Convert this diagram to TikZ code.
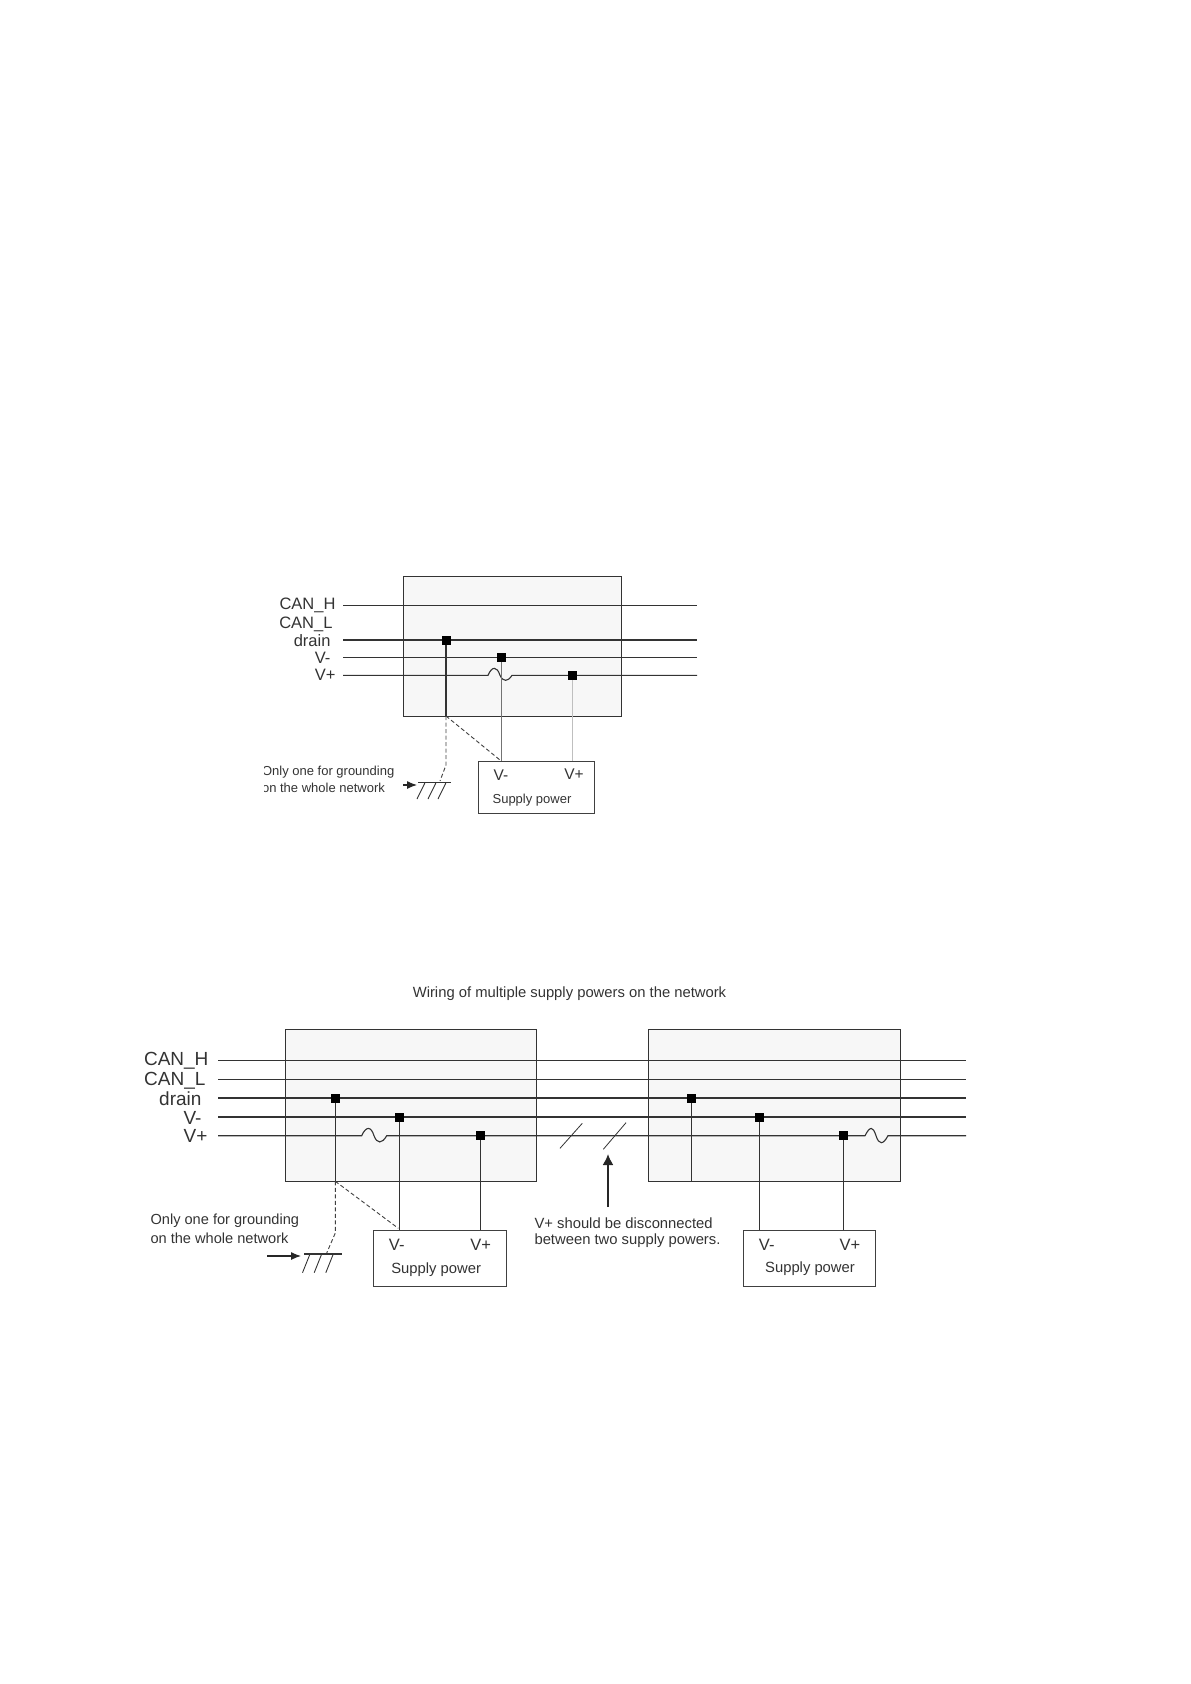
\documentclass[tikz,border=0pt]{standalone}
\usepackage{fontspec}
\setmainfont{Liberation Sans}
\usetikzlibrary{arrows.meta}
\tikzset{
  wire/.style={line width=1.1pt,black!80},
  thinwire/.style={line width=0.8pt,black!55},
  gnd/.style={line width=0.9pt,black!75,dash pattern=on 4pt off 2.5pt},
  slot/.style={draw=black!80,line width=1pt,fill=black!3},
  supply/.style={draw=black!75,line width=1pt,fill=white,inner sep=0pt},
  dot/.style={fill=black,inner sep=0pt,minimum size=9pt},
  big/.style={font=\fontsize{19}{20}\selectfont,text=black!80},
  med/.style={font=\fontsize{16.5}{18}\selectfont,text=black!80},
  txt/.style={font=\fontsize{14.8}{17}\selectfont,text=black!80},
  sml/.style={font=\fontsize{13}{15}\selectfont,text=black!80},
  hint/.style={-{Latex[length=10pt,width=8pt]},line width=1.1pt,black!85}
}
\begin{document}
\begin{tikzpicture}[x=1pt,y=-1pt]
  \useasboundingbox (0,0) rectangle (1191,1684);
  % upper network
  \node[slot,minimum width=218pt,minimum height=140pt] (slotA) at (512,646) {};
  \node[supply,minimum width=116pt,minimum height=52pt] (powerA) at (536.7,787.3) {};
  \foreach \nm/\ty in {tH/605.7,tD/640,tN/657,tP/675.3}{
    \coordinate (\nm a) at (343,\ty);
    \coordinate (\nm b) at (697,\ty);
  }
  \node[med,anchor=east] (ltH) at (339,605) {CAN\_H};
  \node[med,anchor=east] (ltL) at (336,624) {CAN\_L};
  \node[med,anchor=east] (ltD) at (334,640.5) {drain};
  \node[med,anchor=east] (ltN) at (334,657.5) {V-};
  \node[med,anchor=east] (ltP) at (339,674.5) {V+};
  \draw[wire] (tHa) -- (tHb);
  \draw[wire,line width=1.7pt] (tDa) -- (tDb);
  \draw[wire,line width=0.9pt] (tNa) -- (tNb);
  \draw[wire] (tPa) -- (488,675.3) .. controls (492,666) and (497,666) .. (500,675.3)
     .. controls (503,682) and (508,682) .. (512,675.3) -- (tPb);
  \node[dot] (jtD) at (446,640) {};
  \node[dot] (jtN) at (501.7,657) {};
  \node[dot] (jtP) at (572.3,675.3) {};
  \coordinate (gtA) at (446,716);
  \coordinate (gtB) at (446,765);
  \coordinate (gtC) at (440,781);
  \draw[wire] (jtD) -- (gtA);
  \draw[gnd] (gtA) -- (gtB) -- (gtC);
  \draw[gnd] (gtA) -- (500,760);
  \draw[thinwire] (jtN) -- (jtN |- powerA.north);
  \draw[thinwire,black!25] (jtP) -- (jtP |- powerA.north);
  \draw[wire] (418,782.7) -- (451,782.7);
  \foreach \gx in {425,436,446}{
    \draw[wire,line width=0.9pt] (\gx,782.7) -- (\gx-8,799);
  }
  \begin{scope}
    \clip (264,760) rectangle (400,800);
    \node[sml,anchor=west] (ntA) at (258.5,771.7) {Only one for grounding};
    \node[sml,anchor=west] (ntB) at (258.5,787.7) {on the whole network};
  \end{scope}
  \coordinate (atA) at (403,785);
  \coordinate (atB) at (417,785);
  \draw[hint] (atA) -- (atB);
  \node[txt,font=\fontsize{15.5}{18}\selectfont] (ptN) at (501,775) {V-};
  \node[txt,font=\fontsize{15.5}{18}\selectfont] (ptP) at (574,774.5) {V+};
  \node[sml] (ptS) at (532,800.3) {Supply power};
  % lower network
  \node[txt] (title) at (569.5,994) {Wiring of multiple supply powers on the network};
  \node[slot,minimum width=251pt,minimum height=152pt] (slotB) at (411.2,1105.3) {};
  \node[slot,minimum width=252.4pt,minimum height=152pt] (slotC) at (774.5,1105.3) {};
  \node[supply,minimum width=132.7pt,minimum height=56.4pt] (powerB) at (439.7,1258.5) {};
  \node[supply,minimum width=132pt,minimum height=56.4pt] (powerC) at (809.3,1258.5) {};
  \foreach \nm/\ty in {bH/1060.3,bL/1079.7,bD/1098,bN/1117,bP/1135.7}{
    \coordinate (\nm a) at (218,\ty);
    \coordinate (\nm b) at (966,\ty);
  }
  \node[big,anchor=east] (lbH) at (212,1061) {CAN\_H};
  \node[big,anchor=east] (lbL) at (209,1080.5) {CAN\_L};
  \node[big,anchor=east] (lbD) at (205,1099) {drain};
  \node[big,anchor=east] (lbN) at (205,1117.7) {V-};
  \node[big,anchor=east] (lbP) at (211,1135.7) {V+};
  \foreach \nm in {bH,bL,bD,bN}{
    \draw[wire] (\nm a) -- (\nm b);
  }
  \draw[wire] (bPa) -- (361.7,1135.7) .. controls (366,1126) and (371,1126) .. (374,1135.7)
     .. controls (377,1144) and (382,1144) .. (386.7,1135.7)
     -- (865,1135.7) .. controls (870,1126) and (873,1126) .. (876,1135.7)
     .. controls (879,1145) and (883,1145) .. (888,1135.7) -- (bPb);
  \node[dot] (jbD) at (335.3,1098) {};
  \node[dot] (jbN) at (399.3,1117) {};
  \node[dot] (jbP) at (480.7,1135.7) {};
  \node[dot] (jcD) at (691.3,1098) {};
  \node[dot] (jcN) at (759.3,1117) {};
  \node[dot] (jcP) at (843.3,1135.7) {};
  \coordinate (gbA) at (335.3,1181.3);
  \coordinate (gbB) at (335.3,1233);
  \coordinate (gbC) at (326.7,1253);
  \draw[wire] (jbD) -- (gbA);
  \draw[gnd] (gbA) -- (gbB) -- (gbC);
  \draw[gnd] (gbA) -- (398.3,1228.3);
  \draw[wire] (jbN) -- (jbN |- powerB.north);
  \draw[wire] (jbP) -- (jbP |- powerB.north);
  \draw[wire] (jcD) -- (jcD |- slotC.south);
  \draw[wire] (jcN) -- (jcN |- powerC.north);
  \draw[wire] (jcP) -- (jcP |- powerC.north);
  \draw[wire] (304,1254) -- (341.7,1254);
  \foreach \gx in {310,321.7,333.3}{
    \draw[wire,line width=0.9pt] (\gx,1254) -- (\gx-7.5,1272.7);
  }
  \node[txt,anchor=west,font=\fontsize{14.6}{17}\selectfont] (nbA) at (147,1220.7) {Only one for grounding};
  \node[txt,anchor=west,font=\fontsize{14.6}{17}\selectfont] (nbB) at (147,1238.3) {on the whole network};
  \coordinate (abA) at (267.3,1256);
  \coordinate (abB) at (301,1256);
  \draw[hint] (abA) -- (abB);
  \node[txt,font=\fontsize{16.5}{18}\selectfont] (pbN) at (396.7,1245) {V-};
  \node[txt,font=\fontsize{16.5}{18}\selectfont] (pbP) at (480.7,1245) {V+};
  \node[txt] (pbS) at (436.2,1269.5) {Supply power};
  \node[txt,font=\fontsize{16.5}{18}\selectfont] (pcN) at (766.7,1245) {V-};
  \node[txt,font=\fontsize{16.5}{18}\selectfont] (pcP) at (850,1245) {V+};
  \node[txt] (pcS) at (810,1268.5) {Supply power};
  % break in V+
  \draw[wire,line width=0.8pt] (560,1148.3) -- (582.3,1123.3);
  \draw[wire,line width=0.8pt] (603.3,1149.3) -- (626,1122.7);
  \coordinate (acA) at (608,1207);
  \coordinate (acB) at (608,1154);
  \draw[-{Latex[length=11pt,width=11pt]},line width=1.8pt,black!85] (acA) -- (acB);
  \node[txt,anchor=west] (ncA) at (531,1222.7) {V+ should be disconnected};
  \node[txt,anchor=west] (ncB) at (531,1241) {between two supply powers.};
\end{tikzpicture}
\end{document}
